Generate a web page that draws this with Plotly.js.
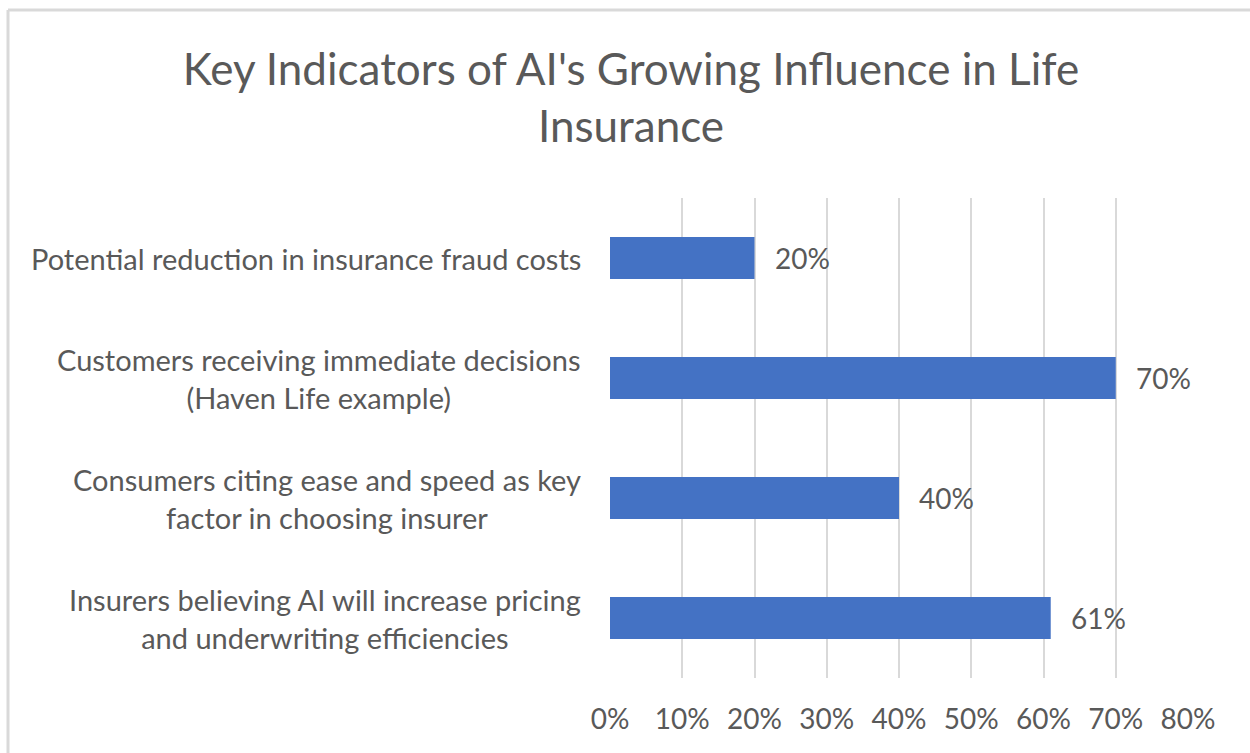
<!DOCTYPE html>
<html>
<head>
<meta charset="utf-8">
<script src="https://cdn.plot.ly/plotly-3.0.1.min.js"></script>
<style>
html, body { margin: 0; padding: 0; background: #fff; }
#chart { width: 1250px; height: 753px; }
</style>
</head>
<body>
<div id="chart"></div>
<script>
// Data (top to bottom as shown)
const categories = [
  "Potential reduction in insurance fraud costs",
  "Customers receiving immediate decisions<br>(Haven Life example)",
  "Consumers citing ease and speed as key<br>factor in choosing insurer",
  "Insurers believing AI will increase pricing<br>and underwriting efficiencies"
];
const values = [0.20, 0.70, 0.40, 0.61];
const valueLabels = ["20%", "70%", "40%", "61%"];
const tickValues = [0, 0.1, 0.2, 0.3, 0.4, 0.5, 0.6, 0.7, 0.8];
const tickLabels = ["0%", "10%", "20%", "30%", "40%", "50%", "60%", "70%", "80%"];
const chartTitle = "Key Indicators of AI's Growing Influence in Life<br>Insurance";

const FONT = "Lato, 'Open Sans', sans-serif";
const TXT = "#595959";

const trace = {
  type: "bar",
  orientation: "h",
  x: values,
  y: categories,
  width: 0.35,
  marker: { color: "#4472C4" },
  hoverinfo: "skip"
};

const annotations = [];
categories.forEach((c, i) => {
  annotations.push({
    xref: "paper", yref: "y",
    x: 0, y: c,
    xanchor: "right", yanchor: "middle",
    xshift: -27,
    text: c, align: "center", showarrow: false,
    font: { family: FONT, size: 29, color: TXT }
  });
  annotations.push({
    xref: "x", yref: "y",
    x: values[i], y: c,
    xanchor: "left", yanchor: "middle",
    xshift: 18,
    text: valueLabels[i], showarrow: false,
    font: { family: FONT, size: 28, color: TXT }
  });
});

const L = 610, R = 62, T = 198, B = 75;
const pw = 1250 - L - R, ph = 753 - T - B;
const px = p => (p - L) / pw;
const py = p => (753 - B - p) / ph;

const layout = {
  width: 1250, height: 753,
  margin: { l: L, r: R, t: T, b: B, pad: 0 },
  paper_bgcolor: "#ffffff",
  plot_bgcolor: "#ffffff",
  showlegend: false,
  title: {
    text: chartTitle,
    font: { family: FONT, size: 44, color: TXT },
    x: 631 / 1250, xanchor: "center", xref: "container",
    y: 1 - 85 / 753, yanchor: "top", yref: "container"
  },
  xaxis: {
    range: [0, 0.8],
    tickvals: tickValues,
    ticktext: tickLabels,
    showgrid: true, gridcolor: "#d9d9d9", gridwidth: 2,
    zeroline: false, showline: false,
    ticks: "outside", ticklen: 16, tickcolor: "rgba(0,0,0,0)",
    tickfont: { family: FONT, size: 28, color: TXT },
    fixedrange: true
  },
  yaxis: {
    type: "category",
    autorange: "reversed",
    showticklabels: false,
    showgrid: false, zeroline: false, showline: false,
    ticks: "",
    fixedrange: true
  },
  annotations: annotations,
  shapes: [
    { type: "line", xref: "paper", yref: "paper",
      x0: px(8), x1: px(8), y0: py(10), y1: py(760),
      line: { color: "#d9d9d9", width: 3 } },
    { type: "line", xref: "paper", yref: "paper",
      x0: px(8), x1: px(1260), y0: py(10), y1: py(10),
      line: { color: "#d9d9d9", width: 3 } }
  ]
};

Plotly.newPlot("chart", [trace], layout, { displayModeBar: false, staticPlot: true });
</script>
</body>
</html>
